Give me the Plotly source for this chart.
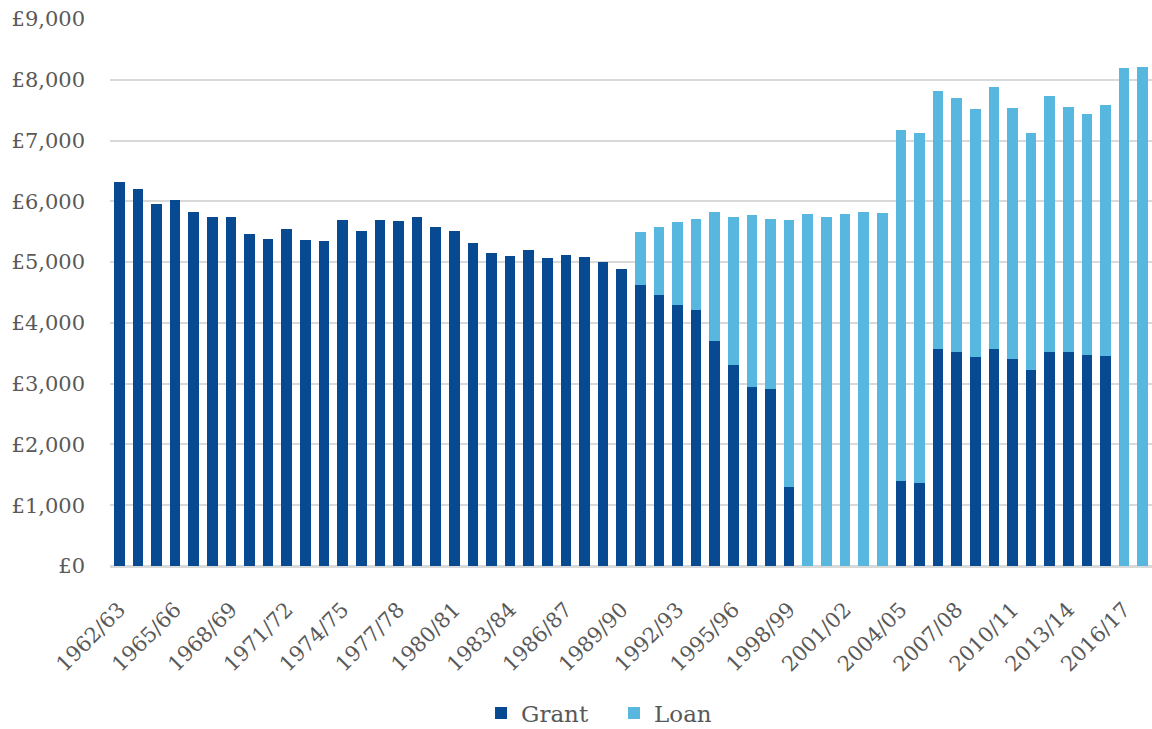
"""
Grant / loan support per student, stacked bars
"""

import plotly.graph_objects as go

years = [
    "1962/63", "1963/64", "1964/65", "1965/66", "1966/67", "1967/68", "1968/69",
    "1969/70", "1970/71", "1971/72", "1972/73", "1973/74", "1974/75", "1975/76",
    "1976/77", "1977/78", "1978/79", "1979/80", "1980/81", "1981/82", "1982/83",
    "1983/84", "1984/85", "1985/86", "1986/87", "1987/88", "1988/89", "1989/90",
    "1990/91", "1991/92", "1992/93", "1993/94", "1994/95", "1995/96", "1996/97",
    "1997/98", "1998/99", "1999/00", "2000/01", "2001/02", "2002/03", "2003/04",
    "2004/05", "2005/06", "2006/07", "2007/08", "2008/09", "2009/10", "2010/11",
    "2011/12", "2012/13", "2013/14", "2014/15", "2015/16", "2016/17", "2017/18",
]

grant = [
    6315, 6210, 5950, 6030, 5820, 5737, 5737, 5457, 5388, 5544, 5363, 5346,
    5692, 5506, 5692, 5680, 5735, 5574, 5520, 5322, 5152, 5102, 5207, 5070,
    5113, 5092, 4998, 4890, 4628, 4452, 4295, 4216, 3710, 3300, 2938, 2908,
    1295, 0, 0, 0, 0, 0, 1400, 1366, 3567, 3516, 3440, 3567, 3410, 3233,
    3516, 3516, 3478, 3455, 0, 0,
]

loan = [
    0, 0, 0, 0, 0, 0, 0, 0, 0, 0, 0, 0,
    0, 0, 0, 0, 0, 0, 0, 0, 0, 0, 0, 0,
    0, 0, 0, 0, 864, 1134, 1365, 1496, 2108, 2440, 2834, 2806,
    4404, 5788, 5740, 5784, 5822, 5802, 5771, 5755, 4245, 4182, 4082, 4312,
    4125, 3893, 4212, 4031, 3967, 4126, 8200, 8212,
]

tick_years = years[::3]

GRANT_COLOR = "#074A92"
LOAN_COLOR = "#58B7DE"
TEXT_COLOR = "#595959"
FONT = "DejaVu Serif"

fig = go.Figure()

fig.add_trace(go.Bar(
    x=years,
    y=grant,
    name="Grant",
    marker=dict(color=GRANT_COLOR, line=dict(width=0))
))

fig.add_trace(go.Bar(
    x=years,
    y=loan,
    name="Loan",
    marker=dict(color=LOAN_COLOR, line=dict(width=0))
))

fig.update_layout(
    barmode="stack",
    bargap=0.43,
    width=1152,
    height=729,
    margin=dict(l=110, r=0, t=19, b=163),
    paper_bgcolor="white",
    plot_bgcolor="white",
    font=dict(family=FONT, color=TEXT_COLOR),
    legend=dict(
        orientation="h",
        xref="container",
        yref="container",
        x=0.533,
        xanchor="center",
        y=0.022,
        yanchor="middle",
        entrywidth=88,
        font=dict(size=23, color=TEXT_COLOR),
        traceorder="normal"
    ),
    xaxis=dict(
        type="category",
        range=[-0.5, 55.5],
        tickmode="array",
        tickvals=tick_years,
        ticktext=tick_years,
        tickangle=-45,
        tickfont=dict(size=21, color=TEXT_COLOR),
        ticks="outside",
        ticklen=22,
        tickcolor="rgba(0,0,0,0)",
        showgrid=False,
        showline=False,
        zeroline=False,
        automargin=False
    ),
    yaxis=dict(
        range=[0, 9000],
        dtick=1000,
        tickprefix="£",
        tickformat=",d",
        tickfont=dict(size=21, color=TEXT_COLOR),
        ticklabelstandoff=24,
        showgrid=True,
        gridcolor="#D9D9D9",
        gridwidth=2,
        zeroline=True,
        zerolinecolor="#D9D9D9",
        zerolinewidth=3,
        showline=False,
        automargin=False
    )
)

fig.write_html(
    "out.html",
    config={"displayModeBar": False},
    post_script="document.body.style.margin = '0';"
)
